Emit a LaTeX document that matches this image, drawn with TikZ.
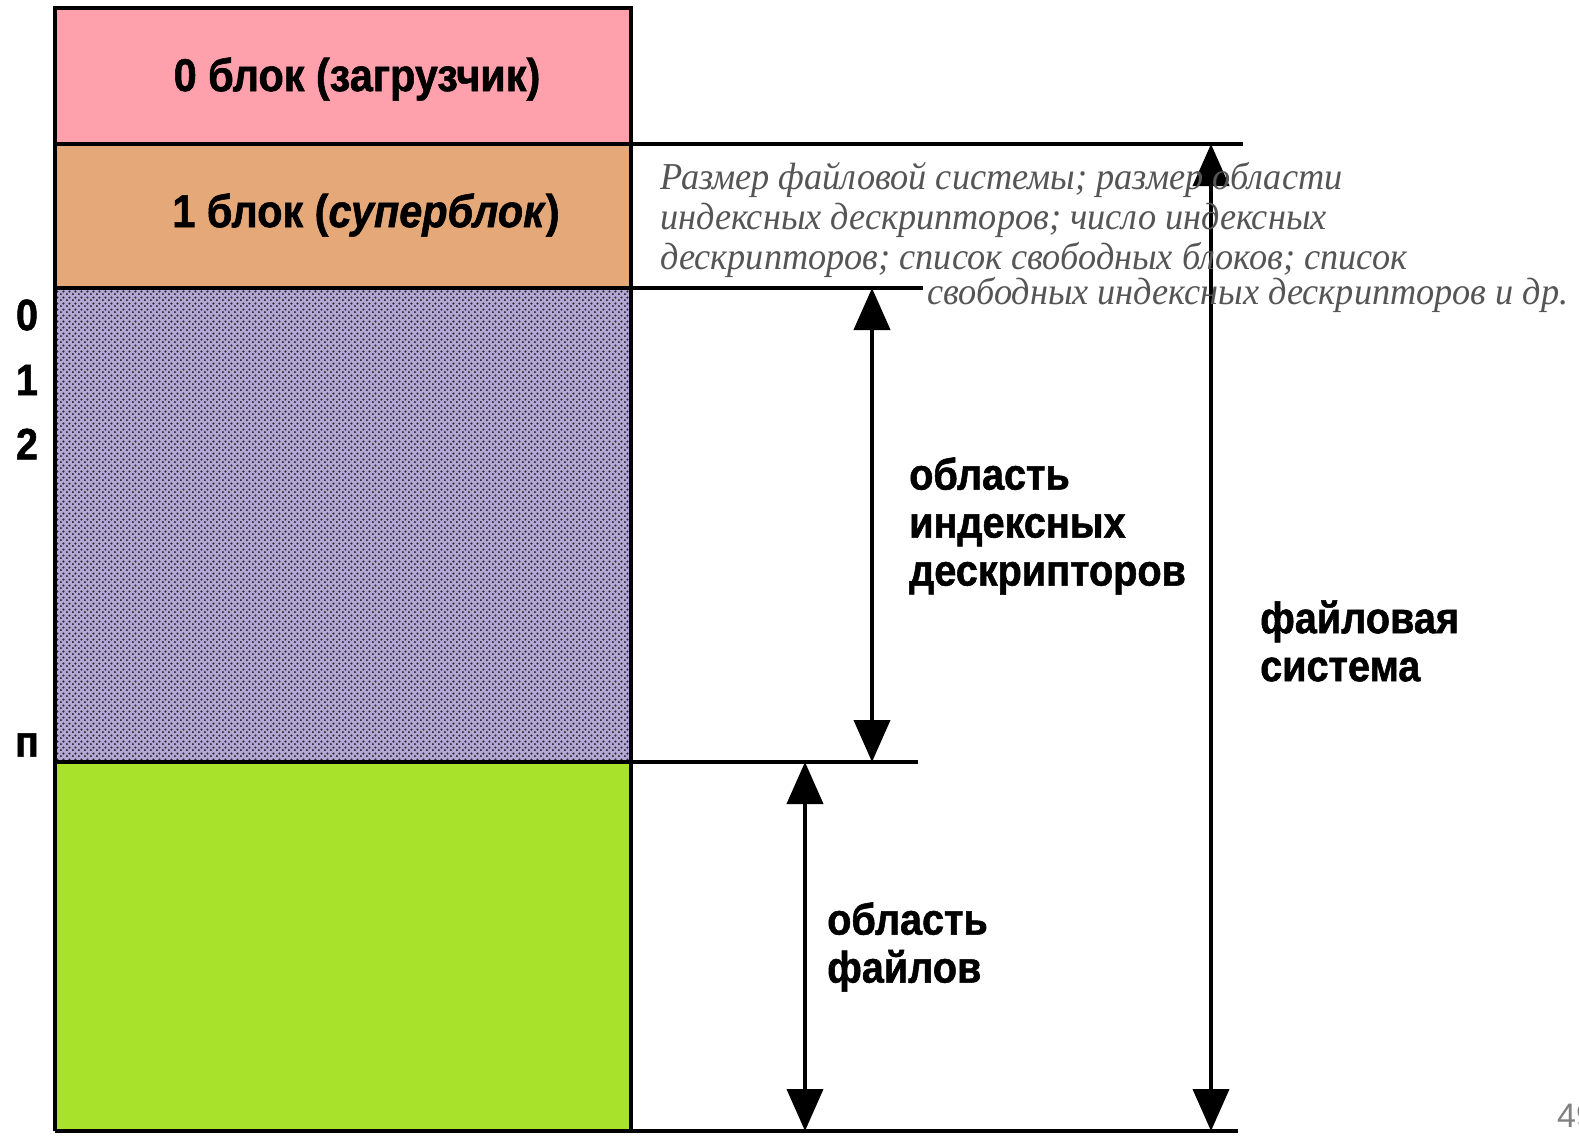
\documentclass[tikz,border=0pt]{standalone}
\usepackage{fontspec}
\setmainfont{Liberation Sans}
\newfontfamily\heavysans[FakeStretch=0.9,FakeBold=1.2,ItalicFont={Liberation Sans Bold Italic}]{Liberation Sans Bold}
\newfontfamily\serifit[FakeStretch=0.955]{Liberation Serif}
\usetikzlibrary{arrows.meta,patterns}
\definecolor{pinkblk}{HTML}{FFA0AD}
\definecolor{orangeblk}{HTML}{E5A878}
\definecolor{purpleblk}{HTML}{B4A7D6}
\definecolor{greenblk}{HTML}{A8E22A}
\definecolor{desc}{HTML}{555555}
\pgfdeclarepatternformonly{fsdots}{\pgfpointorigin}{\pgfpoint{6pt}{6pt}}{\pgfpoint{6pt}{6pt}}{%
  \pgfpathcircle{\pgfpoint{1pt}{1pt}}{1.35pt}%
  \pgfpathcircle{\pgfpoint{4pt}{4pt}}{1.35pt}%
  \pgfusepath{fill}}
\begin{document}
\begin{tikzpicture}[x=1pt,y=-1pt,
  boxline/.style={line width=4.5pt},
  dimarrow/.style={line width=4pt,{Triangle[length=42pt,width=36pt]}-{Triangle[length=42pt,width=36pt]}},
  blocktext/.style={inner sep=0pt,font=\heavysans\fontsize{46}{48}\selectfont},
  sidetext/.style={inner sep=0pt,anchor=west,align=left,font=\heavysans\fontsize{44}{48}\selectfont},
  numlab/.style={inner sep=0pt,font=\heavysans\fontsize{44}{48}\selectfont},
  desctext/.style={inner sep=0pt,anchor=west,text=desc,font=\serifit\itshape\fontsize{38}{40}\selectfont}]
\useasboundingbox (0,0) rectangle (1579,1135);
\fill[white] (0,0) rectangle (1579,1135);
% blocks
\fill[pinkblk] (55,8) rectangle (631,144);
\fill[orangeblk] (55,144) rectangle (631,288);
\fill[purpleblk] (55,288) rectangle (631,762);
\fill[pattern=fsdots,pattern color=black!85] (57,290) rectangle (629,760);
\fill[greenblk] (55,762) rectangle (631,1131);
% coordinates
\coordinate (tl) at (55,8);
\coordinate (tr) at (631,8);
\coordinate (bl) at (55,1131);
\coordinate (br) at (631,1131);
\coordinate (h1l) at (55,144);
\coordinate (h1r) at (1243,144);
\coordinate (h2l) at (55,288);
\coordinate (h2r) at (923,288);
\coordinate (h3l) at (55,762);
\coordinate (h3r) at (918,762);
\coordinate (bend) at (1238,1131);
\coordinate (ia) at (872,288);
\coordinate (ib) at (872,762);
\coordinate (fa) at (805,762);
\coordinate (fb) at (805,1131);
\coordinate (sa) at (1211,144);
\coordinate (sb) at (1211,1131);
% outlines
\draw[boxline] (bl) -- (tl) -- (tr) -- (br);
\draw[boxline] (bl) -- (bend);
\draw[boxline] (h1l) -- (h1r);
\draw[boxline] (h2l) -- (h2r);
\draw[boxline] (h3l) -- (h3r);
% arrows
\draw[dimarrow] (ia) -- (ib);
\draw[dimarrow] (fa) -- (fb);
\draw[dimarrow] (sa) -- (sb);
% block texts
\node[blocktext] (b0) at (357,79) {0 блок (загрузчик)};
\node[blocktext] (b1) at (366,215) {1 блок (\textit{суперблок})};
% numbers
\node[numlab] (n0) at (27,315) {0};
\node[numlab] (n1) at (27,380) {1};
\node[numlab] (n2) at (27,444) {2};
\node[numlab] (nn) at (27,745) {п};
% side texts
\node[sidetext] (inode) at (909,526) {область\\индексных\\дескрипторов};
\node[sidetext] (fsys) at (1260,641) {файловая\\система};
\node[sidetext] (files) at (827,947) {область\\файлов};
% superblock description
\node[desctext] (d1) at (660,180) {Размер файловой системы; размер области};
\node[desctext] (d2) at (660,220) {индексных дескрипторов; число индексных};
\node[desctext] (d3) at (660,260) {дескрипторов; список свободных блоков; список};
\node[desctext] (d4) at (927,295) {свободных индексных дескрипторов и др.};
% page number
\node[inner sep=0pt,anchor=west,text=gray,font=\fontsize{34}{40}\selectfont] (pg) at (1557,1116) {49};
\end{tikzpicture}
\end{document}
